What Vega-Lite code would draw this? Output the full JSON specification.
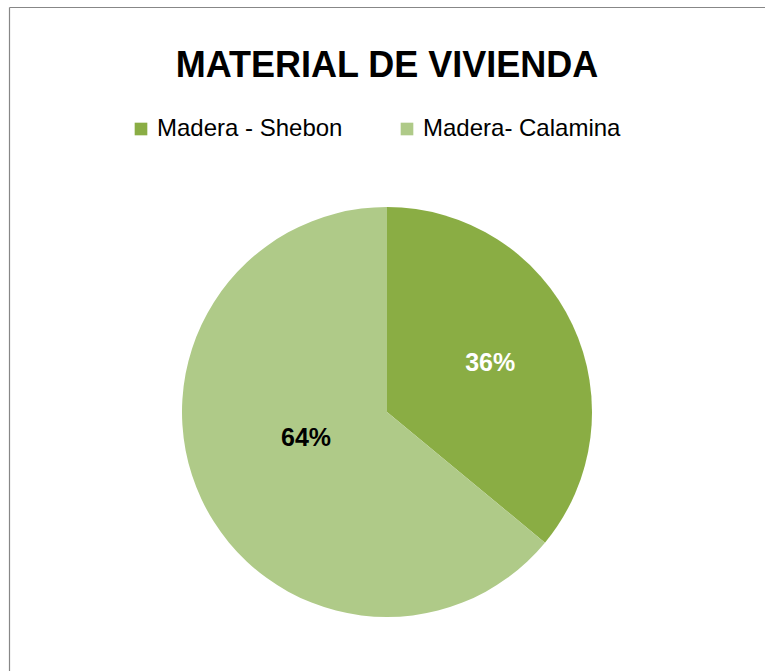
{
  "$schema": "https://vega.github.io/schema/vega-lite/v6.json",
  "width": 756,
  "height": 810,
  "autosize": {"type": "none"},
  "padding": {"left": 9, "top": 7, "right": 0, "bottom": 0},
  "background": "white",
  "config": {"view": {"stroke": null}},
  "title": {
    "text": "MATERIAL DE VIVIENDA",
    "font": "Liberation Sans",
    "fontSize": 36,
    "fontWeight": "bold",
    "color": "#000000",
    "anchor": "middle",
    "orient": "top",
    "frame": "group",
    "baseline": "alphabetic",
    "offset": 0,
    "dy": 106
  },
  "data": {
    "values": [
      {"material": "Madera - Shebon", "share": 0.36},
      {"material": "Madera- Calamina", "share": 0.64}
    ]
  },
  "layer": [
    {
      "data": {"values": [{"a": 0, "b": 0}]},
      "mark": {"type": "point", "opacity": 0},
      "encoding": {
        "x": {"field": "a", "type": "quantitative", "axis": {"orient": "top", "domainColor": "#878787", "domainWidth": 1.2, "ticks": false, "labels": false, "grid": false, "title": null}},
        "y": {"field": "b", "type": "quantitative", "axis": {"orient": "left", "domainColor": "#878787", "domainWidth": 1.2, "ticks": false, "labels": false, "grid": false, "title": null}}
      }
    },
    {
      "mark": {"type": "arc", "outerRadius": 205},
      "encoding": {
        "theta": {"field": "share", "type": "quantitative", "stack": true},
        "color": {
          "field": "material",
          "type": "nominal",
          "scale": {"domain": ["Madera - Shebon", "Madera- Calamina"], "range": ["#8AAD44", "#AFCA88"]},
          "legend": {
            "orient": "none",
            "legendX": 120,
            "legendY": 110,
            "direction": "horizontal",
            "title": null,
            "symbolType": "square",
            "symbolSize": 160,
            "symbolStrokeWidth": 0,
            "labelFont": "Liberation Sans",
            "labelFontSize": 24,
            "labelColor": "#000000",
            "labelOffset": 4,
            "labelLimit": 400,
            "columnPadding": 52,
            "padding": 0
          }
        }
      }
    },
    {
      "mark": {"type": "text", "radius": 114, "font": "Liberation Sans", "fontSize": 25, "fontWeight": "bold", "fill": "#FFFFFF", "align": "center", "baseline": "middle"},
      "encoding": {
        "theta": {"field": "share", "type": "quantitative", "stack": true},
        "detail": {"field": "material", "type": "nominal"},
        "text": {"field": "share", "type": "quantitative", "format": ".0%"},
        "opacity": {"condition": {"test": "datum.material === 'Madera - Shebon'", "value": 1}, "value": 0}
      }
    },
    {
      "mark": {"type": "text", "radius": 85, "thetaOffset": 0.13, "font": "Liberation Sans", "fontSize": 25, "fontWeight": "bold", "fill": "#000000", "align": "center", "baseline": "middle"},
      "encoding": {
        "theta": {"field": "share", "type": "quantitative", "stack": true},
        "detail": {"field": "material", "type": "nominal"},
        "text": {"field": "share", "type": "quantitative", "format": ".0%"},
        "opacity": {"condition": {"test": "datum.material === 'Madera- Calamina'", "value": 1}, "value": 0}
      }
    }
  ]
}
